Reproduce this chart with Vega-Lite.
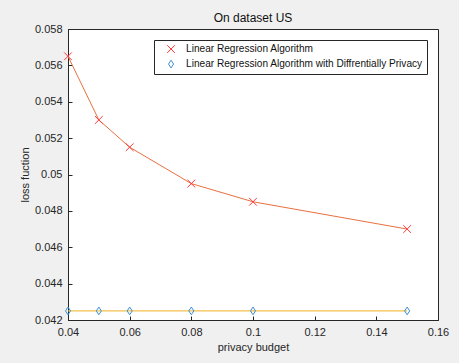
{
  "$schema": "https://vega.github.io/schema/vega-lite/v6.json",
  "autosize": "none",
  "width": 370,
  "height": 291,
  "padding": {"left": 68, "top": 29, "right": 21, "bottom": 43},
  "background": "#f0f0f0",
  "view": {"fill": "white", "stroke": "#262626", "strokeWidth": 1},
  "config": {
    "font": "Liberation Sans",
    "axis": {"grid": false, "labelFont": "Liberation Sans", "titleFont": "Liberation Sans", "labelFontSize": 11, "titleFontSize": 11, "labelColor": "#262626", "titleColor": "#262626", "titleFontWeight": "normal", "domainColor": "#262626", "tickColor": "#262626", "labelFlush": false, "labelOverlap": false}
  },
  "title": {"text": "On dataset US", "fontSize": 12, "fontWeight": "normal", "font": "Liberation Sans", "color": "#111111", "offset": -2},
  "data": {"values": [
    {"x": 0.04, "y": 0.0565, "s": "Linear Regression Algorithm"},
    {"x": 0.05, "y": 0.0530, "s": "Linear Regression Algorithm"},
    {"x": 0.06, "y": 0.0515, "s": "Linear Regression Algorithm"},
    {"x": 0.08, "y": 0.0495, "s": "Linear Regression Algorithm"},
    {"x": 0.10, "y": 0.0485, "s": "Linear Regression Algorithm"},
    {"x": 0.15, "y": 0.0470, "s": "Linear Regression Algorithm"},
    {"x": 0.04, "y": 0.0425, "s": "Linear Regression Algorithm with Diffrentially Privacy"},
    {"x": 0.05, "y": 0.0425, "s": "Linear Regression Algorithm with Diffrentially Privacy"},
    {"x": 0.06, "y": 0.0425, "s": "Linear Regression Algorithm with Diffrentially Privacy"},
    {"x": 0.08, "y": 0.0425, "s": "Linear Regression Algorithm with Diffrentially Privacy"},
    {"x": 0.10, "y": 0.0425, "s": "Linear Regression Algorithm with Diffrentially Privacy"},
    {"x": 0.15, "y": 0.0425, "s": "Linear Regression Algorithm with Diffrentially Privacy"}
  ]},
  "encoding": {
    "x": {"field": "x", "type": "quantitative", "scale": {"domain": [0.04, 0.16], "nice": false, "zero": false},
      "axis": {"title": "privacy budget", "values": [0.04, 0.06, 0.08, 0.1, 0.12, 0.14, 0.16], "format": "~g", "tickSize": -4, "labelPadding": 10, "titlePadding": 4}},
    "y": {"field": "y", "type": "quantitative", "scale": {"domain": [0.042, 0.058], "nice": false, "zero": false},
      "axis": {"title": "loss fuction", "values": [0.042, 0.044, 0.046, 0.048, 0.05, 0.052, 0.054, 0.056, 0.058], "format": "~g", "tickSize": -4, "labelPadding": 10, "titlePadding": 4}}
  },
  "layer": [
    {
      "transform": [{"filter": "datum.s === 'Linear Regression Algorithm'"}],
      "mark": {"type": "line", "strokeWidth": 1, "color": "#e8703f"}
    },
    {
      "transform": [{"filter": "datum.s !== 'Linear Regression Algorithm'"}],
      "mark": {"type": "line", "strokeWidth": 1, "color": "#edb120"}
    },
    {
      "mark": {"type": "point", "filled": false, "strokeWidth": 1, "size": 60, "opacity": 1},
      "encoding": {
        "stroke": {"field": "s", "type": "nominal", "scale": {"domain": ["Linear Regression Algorithm", "Linear Regression Algorithm with Diffrentially Privacy"], "range": ["#ff3838", "#3a8fd6"]},
          "legend": {"title": null, "orient": "top-right", "offset": 11, "fillColor": "white", "strokeColor": "#262626", "padding": 4, "labelFont": "Liberation Sans", "labelFontSize": 10.1, "labelColor": "#111111", "symbolStrokeWidth": 1, "symbolSize": 60, "symbolOffset": 8, "rowPadding": 3, "labelOffset": 10, "labelLimit": 400}},
        "shape": {"field": "s", "type": "nominal", "scale": {"domain": ["Linear Regression Algorithm", "Linear Regression Algorithm with Diffrentially Privacy"], "range": ["M-1,-1L1,1M1,-1L-1,1", "M0,-1L0.65,0L0,1L-0.65,0Z"]}}
      }
    }
  ]
}
